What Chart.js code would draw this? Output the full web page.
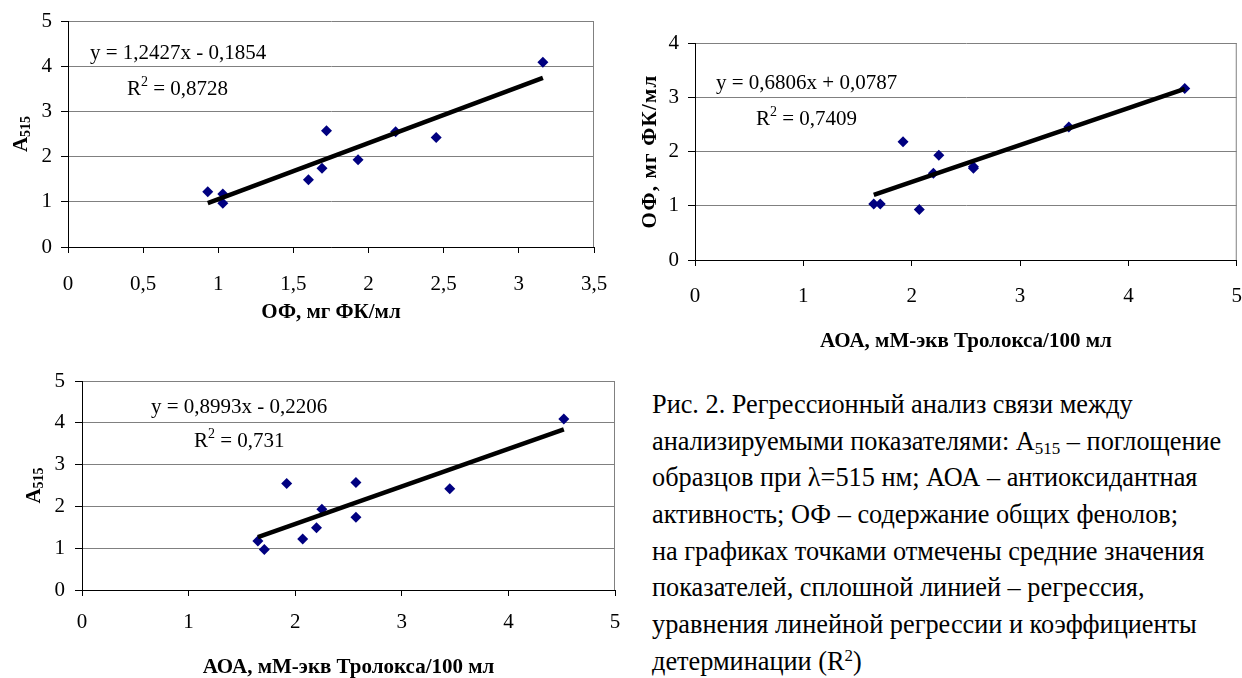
<!DOCTYPE html>
<html>
<head>
<meta charset="utf-8">
<script src="https://cdn.jsdelivr.net/npm/chart.js@4.4.1/dist/chart.umd.min.js"></script>
<style>
  html, body { margin: 0; padding: 0; background: #fff; }
  body { width: 1242px; height: 678px; position: relative; overflow: hidden; }
  canvas { position: absolute; }
  #c1 { left: 0; top: -10px; }
  #c2 { left: 620px; top: 0; }
  #c3 { left: 0; top: 340px; }
  #caption {
    position: absolute; left: 652px; top: 387px;
    font-family: "Liberation Serif", "Times New Roman", Times, "DejaVu Serif", serif;
    font-size: 26.3px; line-height: 36.67px;
    white-space: nowrap; color: #000;
  }
  #caption sub { font-size: 17px; vertical-align: -4px; line-height: 0; }
  #caption sup { font-size: 17px; vertical-align: 9px; line-height: 0; }
</style>
</head>
<body>
<canvas id="c1" width="640" height="350"></canvas>
<canvas id="c2" width="640" height="360"></canvas>
<canvas id="c3" width="640" height="348"></canvas>
<div id="caption">
  Рис. 2. Регрессионный анализ связи между<br>
  анализируемыми показателями: A<sub>515</sub> – поглощение<br>
  образцов при λ=515 нм; АОА – антиоксидантная<br>
  активность; ОФ – содержание общих фенолов;<br>
  на графиках точками отмечены средние значения<br>
  показателей, сплошной линией – регрессия,<br>
  уравнения линейной регрессии и коэффициенты<br>
  детерминации (R<sup>2</sup>)
</div>
<script>
// sample means (same 10 samples in all three plots)
const aoaValues  = [1.65, 1.71, 1.92, 2.07, 2.20, 2.25, 2.57, 2.57, 3.45, 4.52];
const ofValues   = [1.03, 1.03, 2.18, 0.93, 1.60, 1.93, 1.69, 1.72, 2.45, 3.16];
const a515Values = [1.17, 0.97, 2.55, 1.22, 1.49, 1.93, 1.74, 2.57, 2.42, 4.09];

// trendline coefficients as printed on the plots
const slopes     = [1.2427, 0.6806, 0.8993];
const intercepts = [-0.1854, 0.0787, -0.2206];
const r2Values   = [0.8728, 0.7409, 0.731];

// tick labels
const xTicksOf  = ['0', '0,5', '1', '1,5', '2', '2,5', '3', '3,5'];
const xTicksAoa = ['0', '1', '2', '3', '4', '5'];
const yTicksA   = ['0', '1', '2', '3', '4', '5'];
const yTicksOf  = ['0', '1', '2', '3', '4'];

const FONT = '"Liberation Serif", "Times New Roman", Times, "DejaVu Serif", serif';
Chart.defaults.font.family = FONT;
Chart.defaults.color = '#000';

function fmt(v) { return String(v).replace('.', ','); }

function equation(i) {
  const b = intercepts[i];
  return 'y = ' + fmt(slopes[i]) + 'x ' + (b < 0 ? '-' : '+') + ' ' + fmt(Math.abs(b));
}

function points(xs, ys) {
  return xs.map((x, i) => ({ x: x, y: ys[i] }));
}

function trend(xs, i) {
  const lo = Math.min(...xs), hi = Math.max(...xs);
  return [lo, hi].map(x => ({ x: x, y: slopes[i] * x + intercepts[i] }));
}

// grey right-hand frame of the plot area
const frame = {
  id: 'frame',
  beforeDatasetsDraw(chart) {
    const { ctx, chartArea: a } = chart;
    ctx.save();
    ctx.strokeStyle = '#808080';
    ctx.lineWidth = 1;
    ctx.beginPath();
    ctx.moveTo(a.right - 0.5, a.top);
    ctx.lineTo(a.right - 0.5, a.bottom);
    ctx.stroke();
    ctx.restore();
  }
};

// equation, R^2 and the rotated y title (A515 needs a subscript)
const notes = {
  id: 'notes',
  afterDraw(chart, args, o) {
    const ctx = chart.ctx;
    ctx.save();
    ctx.fillStyle = '#000';
    ctx.textBaseline = 'alphabetic';
    ctx.textAlign = 'left';
    ctx.font = '21px ' + FONT;
    ctx.fillText(o.eq, o.eqX, o.eqY);
    let x = o.rX;
    ctx.fillText('R', x, o.rY);
    x += ctx.measureText('R').width;
    ctx.font = '14px ' + FONT;
    ctx.fillText('2', x, o.rY - 9);
    x += ctx.measureText('2').width;
    ctx.font = '21px ' + FONT;
    ctx.fillText(' = ' + fmt(o.r2), x, o.rY);

    const t = o.yTitle;
    const cy = (chart.chartArea.top + chart.chartArea.bottom) / 2;
    ctx.translate(t.x, cy);
    ctx.rotate(-Math.PI / 2);
    ctx.letterSpacing = (t.spacing || 0) + 'px';
    ctx.font = 'bold 21px ' + FONT;
    const wMain = ctx.measureText(t.main).width;
    ctx.font = 'bold 14px ' + FONT;
    const wSub = t.sub ? ctx.measureText(t.sub).width : 0;
    const start = -(wMain + wSub) / 2;
    ctx.font = 'bold 21px ' + FONT;
    ctx.fillText(t.main, start, 7);
    if (t.sub) {
      ctx.font = 'bold 14px ' + FONT;
      ctx.fillText(t.sub, start + wMain, 10);
    }
    ctx.restore();
  }
};

function makeChart(id, p) {
  return new Chart(document.getElementById(id), {
    type: 'scatter',
    data: {
      datasets: [
        {
          type: 'line',
          data: p.trend,
          borderColor: '#000',
          borderWidth: 4.5,
          pointRadius: 0,
          fill: false,
          order: 0
        },
        {
          data: p.points,
          pointStyle: 'rectRot',
          pointRadius: 5.5,
          backgroundColor: '#000080',
          borderColor: '#000080',
          borderWidth: 0,
          order: 1
        }
      ]
    },
    options: {
      responsive: false,
      animation: false,
      devicePixelRatio: 1,
      layout: { padding: p.padding },
      plugins: {
        legend: { display: false },
        tooltip: { enabled: false },
        notes: p.notes
      },
      scales: {
        x: {
          type: 'linear',
          min: 0, max: p.xMax,
          afterFit: s => { s.height = p.xHeight; },
          ticks: {
            stepSize: p.xStep,
            padding: p.xTickPad,
            font: { size: 21 },
            maxRotation: 0,
            callback: (v, i) => p.xTicks[i]
          },
          grid: { display: true, drawOnChartArea: false, drawTicks: true, tickLength: 6, tickColor: '#000' },
          border: { display: true, color: '#000', width: 1 },
          title: { display: true, text: p.xTitle, font: { size: 21, weight: 'bold' }, padding: { top: 0, bottom: p.xTitlePad } }
        },
        y: {
          min: 0, max: p.yMax,
          afterFit: s => { s.width = p.yWidth; },
          ticks: {
            stepSize: 1,
            padding: p.yTickPad,
            font: { size: 21 },
            callback: (v, i) => p.yTicks[i]
          },
          grid: { color: '#808080', lineWidth: 1, drawTicks: true, tickLength: 7, tickColor: '#000' },
          border: { display: true, color: '#000', width: 1 },
          title: { display: false }
        }
      }
    },
    plugins: [frame, notes]
  });
}

makeChart('c1', {
  points: points(ofValues, a515Values),
  trend: trend(ofValues, 0),
  padding: { left: 0, top: 31, right: 46, bottom: 0 },
  xMax: 3.5, xStep: 0.5, xTicks: xTicksOf, xHeight: 93, xTickPad: 19, xTitlePad: 15,
  xTitle: 'ОФ, мг ФК/мл',
  yMax: 5, yTicks: yTicksA, yWidth: 68, yTickPad: 9,
  notes: { eq: equation(0), eqX: 90, eqY: 69, r2: r2Values[0], rX: 127, rY: 105,
           yTitle: { x: 20, main: 'A', sub: '515' } }
});

makeChart('c2', {
  points: points(aoaValues, ofValues),
  trend: trend(aoaValues, 1),
  padding: { left: 0, top: 43, right: 22, bottom: 0 },
  xMax: 5, xStep: 1, xTicks: xTicksAoa, xHeight: 100, xTickPad: 18, xTitlePad: 6,
  xTitle: 'АОА, мМ-экв Тролокса/100 мл',
  yMax: 4, yTicks: yTicksOf, yWidth: 75, yTickPad: 9,
  notes: { eq: equation(1), eqX: 96, eqY: 89, r2: r2Values[1], rX: 136, rY: 125,
           yTitle: { x: 29, main: 'ОФ, мг ФК/мл', sub: '', spacing: 1.2 } }
});

makeChart('c3', {
  points: points(aoaValues, a515Values),
  trend: trend(aoaValues, 2),
  padding: { left: 0, top: 41, right: 25, bottom: 0 },
  xMax: 5, xStep: 1, xTicks: xTicksAoa, xHeight: 98, xTickPad: 14, xTitlePad: 8,
  xTitle: 'АОА, мМ-экв Тролокса/100 мл',
  yMax: 5, yTicks: yTicksA, yWidth: 82, yTickPad: 10,
  notes: { eq: equation(2), eqX: 151, eqY: 73, r2: r2Values[2], rX: 194, rY: 107,
           yTitle: { x: 33, main: 'A', sub: '515' } }
});
</script>
</body>
</html>
